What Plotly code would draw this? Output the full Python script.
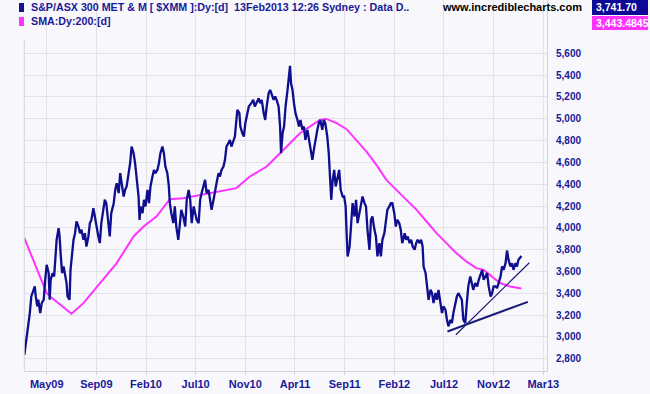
import plotly.graph_objects as go

# ---------------- data (trading-day index) ----------------
price_day = [-45, -41, -37, -34, -31, -27, -24, -22, -19, -17, -13, -10, -6, -3, 0, 4, 6, 8, 12, 15,
             18, 20, 24, 26, 28, 31, 34, 37, 40, 42, 46, 48, 51, 54, 57, 60, 64, 67, 70, 74,
             77, 80, 84, 87, 90, 94, 97, 100, 104, 107, 110, 114, 117, 120, 124, 127, 130, 135, 138, 141,
             145, 148, 151, 155, 158, 161, 165, 168, 171, 175, 178, 181, 185, 187, 189, 193, 196, 199, 203, 206,
             209, 213, 216, 219, 223, 226, 229, 233, 236, 239, 243, 246, 248, 251, 255, 258, 261, 265, 268, 271,
             275, 279, 282, 286, 289, 292, 296, 299, 302, 306, 309, 312, 316, 319, 322, 326, 329, 332, 336, 339,
             342, 346, 349, 352, 356, 359, 362, 366, 369, 372, 376, 379, 382, 384, 388, 390, 394, 397, 400, 404,
             407, 412, 416, 419, 422, 427, 430, 433, 437, 440, 443, 447, 450, 453, 457, 460, 463, 467, 470, 472,
             475, 478, 481, 485, 487, 490, 492, 495, 498, 501, 505, 508, 511, 515, 518, 521, 525, 528, 531, 535,
             538, 541, 545, 548, 551, 555, 558, 561, 565, 568, 570, 573, 576, 579, 582, 586, 589, 592, 596, 599,
             602, 604, 606, 610, 613, 616, 620, 623, 626, 630, 633, 636, 640, 643, 646, 650, 653, 656, 660, 663,
             666, 670, 673, 676, 680, 683, 686, 690, 693, 696, 700, 703, 706, 710, 713, 716, 721, 724, 727, 731,
             734, 737, 741, 744, 747, 751, 754, 757, 759, 763, 766, 769, 773, 776, 779, 783, 786, 789, 793, 796,
             799, 803, 806, 809, 813, 816, 819, 823, 826, 829, 833, 836, 839, 843, 846, 849, 853, 856, 859, 863,
             867, 870, 874, 877, 880, 884, 887, 890, 894, 897, 900, 904, 907, 910, 914, 917, 920, 924, 927, 930,
             934, 937, 940, 944, 947, 950, 954, 956]
price_close = [2837, 2974, 3127, 3219, 3371, 3432, 3463, 3371, 3280, 3341, 3219, 3310, 3341, 3524, 3661, 3585, 3341, 3524, 3585, 3555,
               3738, 3890, 3997, 3921, 3768, 3585, 3646, 3585, 3494, 3371, 3341, 3615, 3768, 3890, 3951, 4058, 4012, 3951, 3982, 3890,
               3951, 3829, 3921, 4043, 4073, 4180, 4104, 4012, 3921, 3860, 4043, 4165, 4257, 4226, 4012, 3921, 4134, 4226, 4348, 4409,
               4318, 4501, 4409, 4287, 4348, 4379, 4501, 4592, 4745, 4684, 4592, 4470, 4287, 4073, 4196, 4134, 4257, 4196, 4348, 4226,
               4379, 4470, 4531, 4501, 4531, 4592, 4684, 4745, 4684, 4562, 4501, 4379, 4226, 4134, 4043, 4196, 4012, 3890, 4073, 4165,
               4104, 4012, 4257, 4348, 4257, 4043, 4196, 4134, 4073, 4043, 4257, 4318, 4379, 4440, 4318, 4348, 4257, 4165, 4257, 4348,
               4409, 4501, 4470, 4531, 4562, 4623, 4745, 4776, 4806, 4745, 4806, 4837, 4989, 5081, 5051, 4928, 4867, 4837, 4959, 5051,
               5112, 5142, 5173, 5112, 5142, 5188, 5142, 5173, 5051, 4989, 5112, 5234, 5264, 5219, 5173, 5203, 5173, 5112, 4928, 4684,
               4867, 4928, 5112, 5264, 5356, 5484, 5325, 5264, 5142, 5051, 4989, 4928, 4989, 4898, 4928, 4806, 4898, 4806, 4745, 4623,
               4715, 4806, 4898, 4959, 4989, 4898, 4989, 4959, 4837, 4684, 4501, 4257, 4440, 4531, 4379, 4470, 4531, 4348, 4287, 4287,
               4196, 3951, 3738, 3829, 4073, 4226, 4104, 4257, 4043, 4134, 4196, 4287, 4226, 4196, 3982, 3799, 4073, 4104, 3982, 3921,
               3738, 3860, 3738, 3890, 3951, 4073, 4165, 4196, 4226, 4226, 4134, 4012, 4073, 4043, 3982, 3860, 3951, 3890, 3921, 3860,
               3890, 3829, 3799, 3860, 3890, 3860, 3890, 3829, 3646, 3585, 3432, 3341, 3432, 3402, 3310, 3402, 3341, 3432, 3310, 3219,
               3280, 3249, 3158, 3097, 3158, 3127, 3219, 3310, 3371, 3402, 3371, 3341, 3158, 3127, 3310, 3463, 3555, 3494, 3432, 3494,
               3463, 3524, 3585, 3615, 3524, 3555, 3585, 3463, 3371, 3402, 3463, 3463, 3448, 3494, 3555, 3646, 3615, 3676, 3792, 3707,
               3646, 3676, 3615, 3676, 3646, 3707, 3738, 3741.70]

sma_day = [-45, 0, 7, 50, 74, 107, 141, 175, 195, 221, 241, 248, 275, 309, 342, 376, 382, 409, 443, 470,
           490, 510, 530, 550, 563, 584, 604, 624, 644, 664, 684, 704, 725, 745, 765, 785, 805, 825, 845, 865,
           880, 893, 913, 933, 956]
sma_value = [3906, 3402, 3371, 3213, 3310, 3494, 3677, 3921, 4012, 4104, 4226, 4263, 4272, 4303, 4333, 4358, 4364, 4470, 4562, 4684,
             4776, 4867, 4928, 4989, 4998, 4959, 4904, 4806, 4699, 4577, 4440, 4348, 4257, 4165, 4058, 3951, 3860, 3768, 3692, 3631,
             3615, 3570, 3494, 3463, 3443.4845]

trend1_day = [807, 969]
trend1_value = [3050, 3322]
trend2_day = [824, 972]
trend2_value = [3020, 3680]

x_tick_days = [0, 100, 200, 300, 400, 500, 600, 700, 800, 900, 1000]
x_tick_labels = ["May09", "Sep09", "Feb10", "Jul10", "Nov10", "Apr11", "Sep11", "Feb12", "Jul12", "Nov12", "Mar13"]
y_tick_values = [2800, 3000, 3200, 3400, 3600, 3800, 4000, 4200, 4400, 4600, 4800, 5000, 5200, 5400, 5600]

# ---------------- styling ----------------
NAVY = "#0E0E8E"
MAGENTA = "#FF33FF"
BG = "#F7F7FC"
GRID = "#E2E2E8"
FONT = "Liberation Sans, Arial, sans-serif"

W, H = 650, 394
L, R, T, B = 24, 103, 0, 23
PW, PH = W - L - R, H - T - B


def px(x):
    return (x - L) / PW


def py(y):
    return 1 - (y - T) / PH


fig = go.Figure()
fig.add_trace(go.Scatter(x=sma_day, y=sma_value, mode="lines",
                         line=dict(color=MAGENTA, width=2), hoverinfo="skip"))
fig.add_trace(go.Scatter(x=price_day, y=price_close, mode="lines",
                         line=dict(color=NAVY, width=2.3), hoverinfo="skip"))
fig.add_trace(go.Scatter(x=trend1_day, y=trend1_value, mode="lines",
                         line=dict(color="#1C1C78", width=2), hoverinfo="skip"))
fig.add_trace(go.Scatter(x=trend2_day, y=trend2_value, mode="lines",
                         line=dict(color="#1C1C78", width=1.2), hoverinfo="skip"))

xtickfont = dict(family=FONT, size=11, color="#1A1A96", weight="bold")
ytickfont = dict(family=FONT, size=10, color="#1A1A96", weight="bold")

fig.update_layout(
    width=W, height=H,
    margin=dict(l=L, r=R, t=T, b=B),
    paper_bgcolor=BG, plot_bgcolor=BG,
    showlegend=False,
    xaxis=dict(range=[-45.7, 1007.5], tickmode="array", tickvals=x_tick_days, ticktext=x_tick_labels,
               showgrid=True, gridcolor=GRID, gridwidth=1, zeroline=False,
               showline=True, linecolor="#D4D4DC", linewidth=1,
               ticks="outside", ticklen=3, tickcolor="#D4D4DC",
               tickfont=xtickfont, fixedrange=True),
    yaxis=dict(range=[2688, 6088], side="right", tickmode="array", tickvals=y_tick_values,
               tickformat=",d", showgrid=True, gridcolor=GRID, gridwidth=1, zeroline=False,
               showline=True, linecolor="#D4D4DC", linewidth=1,
               ticks="", ticklabelstandoff=6,
               tickfont=ytickfont, fixedrange=True),
)

shapes = []
# left border
shapes.append(dict(type="line", xref="paper", yref="paper", x0=px(24.3), x1=px(24.3), y0=py(40), y1=0,
                   line=dict(color="#D4D4DC", width=1)))
# legend markers
shapes.append(dict(type="rect", xref="paper", yref="paper", x0=px(19), x1=px(24), y0=py(3), y1=py(12),
                   fillcolor="#14148C", line=dict(width=0)))
shapes.append(dict(type="rect", xref="paper", yref="paper", x0=px(19), x1=px(24), y0=py(17), y1=py(26),
                   fillcolor=MAGENTA, line=dict(width=0)))
# value boxes
shapes.append(dict(type="rect", xref="paper", yref="paper", x0=px(592), x1=px(648), y0=py(0), y1=py(15),
                   fillcolor="#0A0A96", line=dict(width=0)))
shapes.append(dict(type="rect", xref="paper", yref="paper", x0=px(592), x1=px(648), y0=py(16), y1=py(30),
                   fillcolor=MAGENTA, line=dict(width=0)))
fig.update_layout(shapes=shapes)

hdr = dict(family=FONT, size=10.7, color="#1A1A96", weight="bold")
ann = [
    dict(text="S&P/ASX 300 MET & M [ $XMM ]:Dy:[d]  13Feb2013 12:26 Sydney : Data D..",
         x=px(29), y=py(7.5), font=hdr),
    dict(text="SMA:Dy:200:[d]", x=px(29), y=py(21.5), font=hdr),
    dict(text="www.incrediblecharts.com", x=px(440), y=py(7.5),
         font=dict(family=FONT, size=11, color="#000000", weight="bold")),
    dict(text="3,741.70", x=px(594), y=py(7.5),
         font=dict(family=FONT, size=10.5, color="#FFFFFF", weight="bold")),
    dict(text="3,443.4845", x=px(594), y=py(22.5),
         font=dict(family=FONT, size=10.5, color="#FFFFFF", weight="bold")),
]
for a in ann:
    a.update(xref="paper", yref="paper", xanchor="left", yanchor="middle", showarrow=False)
fig.update_layout(annotations=ann)

fig.write_html("out.html", config={"displayModeBar": False, "staticPlot": True})
with open("out.html", "r", encoding="utf-8") as f:
    page = f.read()
page = page.replace("<body>", '<body style="margin:0;padding:0;overflow:hidden;">', 1)
with open("out.html", "w", encoding="utf-8") as f:
    f.write(page)
